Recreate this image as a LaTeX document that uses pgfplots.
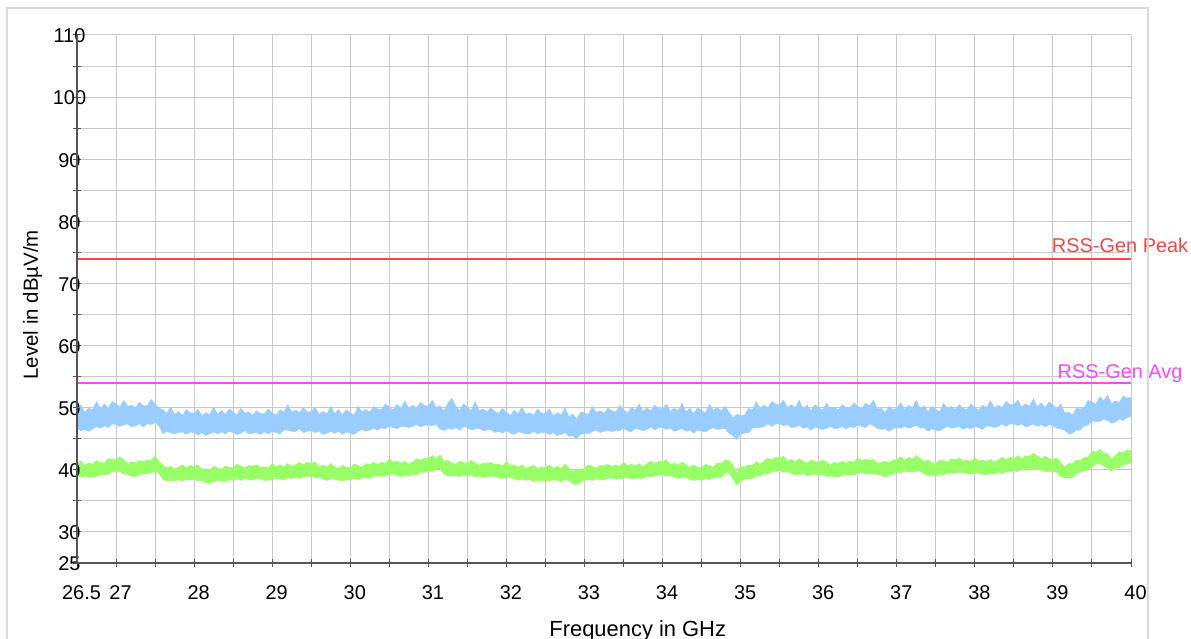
\documentclass[border=0pt]{standalone}
\usepackage{pgfplots}
\pgfplotsset{compat=1.18}
\usepackage{pgfplotstable}
\usepgfplotslibrary{fillbetween}
\usepackage{fontspec}
\setmainfont{Liberation Sans}

\definecolor{peakred}{RGB}{240,72,72}
\definecolor{avgmag}{RGB}{248,72,248}
\definecolor{trblue}{RGB}{153,204,255}
\definecolor{trgreen}{RGB}{153,255,102}
\definecolor{gridgrey}{RGB}{200,200,200}
\definecolor{axgrey}{RGB}{85,85,85}
\definecolor{framegrey}{RGB}{217,217,217}

% f: frequency (GHz); bu/bl: peak trace envelope; gu/gl: average trace envelope (dBuV/m)
\pgfplotstableread{
f bu bl gu gl
26.50 49.8 46.7 41.1 39.1
26.55 50.4 46.3 41.4 38.8
26.60 49.2 46.5 40.7 39.0
26.65 49.9 46.2 41.1 38.8
26.70 49.7 46.6 40.9 38.8
26.75 51.0 47.0 41.5 39.0
26.80 49.8 46.7 41.2 39.2
26.85 50.6 47.1 41.1 39.2
26.90 49.9 46.8 41.8 39.3
26.95 51.0 47.4 41.7 39.7
27.00 50.6 47.3 41.7 39.7
27.05 50.1 47.0 42.1 39.8
27.10 51.2 47.2 41.6 39.3
27.15 50.2 47.4 41.0 39.3
27.20 50.4 46.9 41.3 39.0
27.25 50.0 47.1 41.1 38.9
27.30 50.9 47.4 41.5 39.3
27.35 50.3 46.9 41.3 39.4
27.40 50.3 47.4 41.6 39.4
27.45 51.3 47.3 41.5 39.5
27.50 50.6 47.6 42.3 39.8
27.55 49.9 47.1 41.3 39.4
27.60 49.7 45.8 40.8 38.5
27.65 49.1 46.2 40.3 38.2
27.70 50.1 46.0 40.6 38.3
27.75 48.9 45.8 40.1 38.2
27.80 49.4 46.0 40.4 38.4
27.85 48.7 46.1 40.8 38.2
27.90 49.7 45.7 40.3 38.4
27.95 49.2 46.1 40.7 38.4
28.00 49.1 46.0 40.5 38.5
28.05 49.7 45.6 40.8 38.2
28.10 48.7 46.0 40.0 38.3
28.15 49.2 45.5 40.2 37.9
28.20 48.9 45.8 39.9 37.8
28.25 50.1 46.1 40.6 38.1
28.30 48.9 45.8 40.3 38.3
28.35 49.6 46.1 40.1 38.2
28.40 48.9 45.8 40.6 38.1
28.45 49.8 46.2 40.4 38.4
28.50 49.3 46.0 40.3 38.3
28.55 48.8 45.7 40.9 38.6
28.60 49.9 45.9 40.6 38.3
28.65 49.1 46.3 40.3 38.6
28.70 49.3 45.8 40.7 38.4
28.75 48.8 45.9 40.6 38.4
28.80 49.5 46.0 40.8 38.6
28.85 49.1 45.7 40.4 38.5
28.90 49.0 46.1 40.5 38.3
28.95 49.8 45.8 40.3 38.3
29.00 49.2 46.2 41.0 38.5
29.05 48.8 46.0 40.5 38.6
29.10 49.7 45.8 40.8 38.5
29.15 49.3 46.4 40.5 38.4
29.20 50.5 46.4 41.0 38.7
29.25 49.3 46.2 40.5 38.6
29.30 49.6 46.2 40.8 38.8
29.35 49.2 46.6 41.2 38.6
29.40 50.0 46.0 40.8 38.9
29.45 49.3 46.2 41.2 38.9
29.50 49.4 46.3 41.0 39.0
29.55 50.1 46.0 41.3 38.7
29.60 48.9 46.2 40.5 38.8
29.65 49.4 45.7 40.8 38.5
29.70 49.0 45.9 40.4 38.3
29.75 50.2 46.2 41.0 38.5
29.80 49.0 45.9 40.5 38.5
29.85 49.7 46.2 40.2 38.3
29.90 48.8 45.7 40.7 38.2
29.95 49.7 46.1 40.4 38.4
30.00 49.2 45.9 40.4 38.4
30.05 48.8 45.7 40.9 38.6
30.10 50.2 46.2 40.7 38.4
30.15 49.3 46.5 40.4 38.7
30.20 49.7 46.2 41.0 38.7
30.25 49.3 46.4 40.8 38.6
30.30 50.2 46.7 41.2 39.0
30.35 49.8 46.4 40.9 39.0
30.40 49.7 46.8 41.2 39.0
30.45 50.6 46.6 41.0 39.0
30.50 50.1 47.1 41.8 39.3
30.55 49.6 46.8 41.2 39.3
30.60 50.5 46.6 41.4 39.1
30.65 49.9 47.0 41.0 38.9
30.70 51.1 47.0 41.4 39.1
30.75 49.9 46.8 40.9 39.0
30.80 50.4 47.0 41.3 39.3
30.85 49.9 47.3 41.8 39.2
30.90 50.9 46.9 41.5 39.6
30.95 50.3 47.2 41.9 39.6
31.00 50.3 47.2 41.8 39.8
31.05 51.2 47.1 42.3 39.7
31.10 50.0 47.3 41.8 40.1
31.15 50.3 46.6 42.4 40.1
31.20 49.4 46.3 41.4 39.3
31.25 50.7 46.7 41.5 39.0
31.30 51.5 46.5 41.1 39.1
31.35 50.3 46.8 40.9 39.0
31.40 49.5 46.4 41.4 38.9
31.45 50.6 47.0 41.2 39.2
31.50 50.1 46.8 41.0 39.0
31.55 49.5 46.4 41.5 39.2
31.60 51.0 46.6 41.1 38.8
31.65 49.5 46.7 40.7 39.0
31.70 49.8 46.3 41.1 38.8
31.75 49.3 46.4 41.0 38.8
31.80 50.0 46.5 41.2 39.0
31.85 49.4 46.0 40.8 38.9
31.90 49.1 46.2 40.9 38.7
31.95 49.9 45.9 40.6 38.6
32.00 49.3 46.3 41.3 38.8
32.05 48.7 45.9 40.7 38.8
32.10 49.6 45.7 40.8 38.5
32.15 49.0 46.1 40.4 38.3
32.20 50.1 46.0 40.8 38.5
32.25 48.9 45.8 40.2 38.3
32.30 49.2 45.8 40.5 38.5
32.35 48.8 46.2 40.7 38.1
32.40 49.8 45.8 40.2 38.3
32.45 49.1 46.0 40.5 38.2
32.50 49.1 46.0 40.3 38.3
32.55 49.8 45.7 40.8 38.2
32.60 48.7 46.0 40.2 38.5
32.65 49.2 45.5 40.6 38.3
32.70 48.8 45.7 40.2 38.1
32.75 50.0 46.0 40.9 38.4
32.80 48.5 45.4 40.3 38.3
32.85 49.0 45.5 39.7 37.8
32.90 48.1 45.0 40.1 37.6
32.95 49.3 45.7 40.0 38.0
33.00 49.2 45.9 40.3 38.3
33.05 48.9 45.8 40.8 38.5
33.10 50.2 46.2 40.6 38.3
33.15 49.2 46.4 40.2 38.5
33.20 49.5 46.0 40.7 38.4
33.25 49.1 46.2 40.6 38.4
33.30 49.9 46.4 40.9 38.7
33.35 49.5 46.1 40.5 38.6
33.40 49.3 46.4 40.8 38.6
33.45 50.3 46.3 40.5 38.5
33.50 49.7 46.7 41.2 38.7
33.55 49.1 46.3 40.7 38.8
33.60 50.0 46.1 40.9 38.6
33.65 49.6 46.7 40.6 38.5
33.70 50.6 46.5 41.0 38.7
33.75 49.4 46.3 40.5 38.6
33.80 49.9 46.5 41.0 39.0
33.85 49.5 46.9 41.4 38.8
33.90 50.4 46.4 41.0 39.1
33.95 49.9 46.8 41.4 39.1
34.00 49.9 46.8 41.3 39.3
34.05 50.6 46.5 41.6 39.0
34.10 49.4 46.7 40.8 39.1
34.15 49.9 46.2 41.1 38.8
34.20 49.5 46.4 40.7 38.6
34.25 50.7 46.7 41.3 38.8
34.30 49.3 46.2 40.8 38.8
34.35 49.9 46.4 40.4 38.5
34.40 49.0 45.9 40.8 38.3
34.45 50.0 46.4 40.4 38.4
34.50 49.5 46.2 40.3 38.3
34.55 49.2 46.1 40.9 38.6
34.60 50.5 46.5 40.7 38.4
34.65 49.6 46.8 40.4 38.7
34.70 50.0 46.5 41.1 38.8
34.75 49.5 46.6 41.0 38.8
34.80 50.2 46.7 41.6 39.4
34.85 49.3 45.9 41.5 39.6
34.90 48.4 45.5 40.8 38.6
34.95 48.9 44.9 39.5 37.5
35.00 48.8 45.8 40.6 38.1
35.05 48.7 45.9 40.4 38.5
35.10 49.9 46.0 40.8 38.5
35.15 49.6 46.7 40.7 38.6
35.20 50.9 46.8 41.3 39.0
35.25 49.9 46.8 40.9 39.0
35.30 50.4 47.0 41.4 39.4
35.35 50.0 47.4 41.9 39.3
35.40 51.0 47.0 41.6 39.7
35.45 50.5 47.4 42.0 39.7
35.50 50.5 47.4 41.9 39.9
35.55 51.2 47.1 42.2 39.6
35.60 50.0 47.3 41.4 39.7
35.65 50.5 46.8 41.7 39.4
35.70 50.0 46.9 41.3 39.2
35.75 51.2 47.2 41.8 39.3
35.80 49.8 46.7 41.4 39.4
35.85 50.4 46.9 41.0 39.1
35.90 49.5 46.4 41.6 39.1
35.95 50.5 46.9 41.3 39.3
36.00 50.0 46.7 41.2 39.2
36.05 49.6 46.5 41.6 39.3
36.10 50.7 46.7 41.2 38.9
36.15 49.8 47.0 40.7 39.0
36.20 50.1 46.6 41.2 38.9
36.25 49.6 46.7 41.0 38.8
36.30 50.5 47.0 41.4 39.2
36.35 50.0 46.6 41.1 39.2
36.40 49.9 47.0 41.4 39.2
36.45 50.8 46.8 41.2 39.2
36.50 50.2 47.2 41.9 39.4
36.55 49.8 47.0 41.5 39.6
36.60 50.7 46.8 41.7 39.4
36.65 50.3 47.4 41.5 39.4
36.70 51.2 47.1 41.7 39.4
36.75 49.8 46.7 41.1 39.2
36.80 49.9 46.5 41.2 39.2
36.85 49.2 46.6 41.4 38.8
36.90 50.2 46.2 41.1 39.2
36.95 49.7 46.6 41.6 39.3
37.00 49.9 46.8 41.6 39.6
37.05 50.8 46.7 42.1 39.5
37.10 49.7 47.0 41.5 39.8
37.15 50.4 46.7 42.0 39.7
37.20 50.0 46.9 41.7 39.6
37.25 51.2 47.2 42.3 39.8
37.30 49.8 46.7 41.8 39.8
37.35 50.3 46.8 41.3 39.4
37.40 49.3 46.2 41.6 39.1
37.45 50.2 46.6 41.1 39.1
37.50 49.7 46.4 41.0 39.0
37.55 49.4 46.3 41.6 39.3
37.60 50.7 46.7 41.5 39.2
37.65 49.8 47.0 41.2 39.5
37.70 50.2 46.7 41.8 39.5
37.75 49.7 46.8 41.6 39.4
37.80 50.5 47.0 41.9 39.7
37.85 49.9 46.5 41.4 39.5
37.90 49.7 46.8 41.6 39.4
37.95 50.6 46.6 41.3 39.3
38.00 50.0 47.0 42.0 39.5
38.05 49.6 46.8 41.4 39.5
38.10 50.4 46.5 41.6 39.3
38.15 50.0 47.1 41.3 39.2
38.20 51.1 47.0 41.7 39.4
38.25 49.9 46.8 41.2 39.3
38.30 50.4 47.0 41.6 39.6
38.35 50.0 47.4 42.0 39.4
38.40 51.0 47.0 41.6 39.7
38.45 50.5 47.4 42.0 39.7
38.50 50.5 47.4 41.8 39.8
38.55 51.2 47.1 42.3 39.7
38.60 50.1 47.4 41.8 40.1
38.65 50.6 46.9 42.3 40.0
38.70 50.2 47.1 42.1 40.0
38.75 51.4 47.4 42.7 40.2
38.80 50.1 47.0 42.2 40.2
38.85 50.8 47.3 41.8 39.9
38.90 50.0 46.9 42.2 39.7
38.95 50.9 47.3 41.8 39.8
39.00 50.4 47.1 41.7 39.7
39.05 49.8 46.7 41.9 39.6
39.10 50.6 46.6 41.2 38.9
39.15 49.2 46.4 40.4 38.7
39.20 49.3 45.8 41.0 38.7
39.25 48.8 45.9 41.0 38.8
39.30 49.9 46.4 41.6 39.4
39.35 49.8 46.4 41.5 39.6
39.40 50.0 47.1 42.0 39.8
39.45 51.2 47.2 42.0 40.0
39.50 50.9 47.9 43.0 40.5
39.55 50.6 47.8 42.8 40.9
39.60 51.7 47.8 43.3 41.0
39.65 51.1 48.2 42.7 40.6
39.70 52.0 47.9 42.6 40.3
39.75 50.6 47.5 41.7 39.8
39.80 51.1 47.7 42.3 40.3
39.85 50.8 48.2 42.9 40.3
39.90 51.9 47.9 42.7 40.8
39.95 51.5 48.4 43.2 40.9
40.00 51.7 48.6 43.1 41.1
}\spectrum

\begin{document}
\begin{tikzpicture}
\begin{axis}[
  at={(0,0)}, anchor=south west,
  scale only axis,
  width=1054bp, height=528bp,
  xmin=26.5, xmax=40, ymin=25, ymax=110,
  clip=false,
  axis line style={draw=none},
  xtick={26.5,27,28,29,30,31,32,33,34,35,36,37,38,39,40},
  minor xtick={27.5,28.5,29.5,30.5,31.5,32.5,33.5,34.5,35.5,36.5,37.5,38.5,39.5},
  ytick={25,30,40,50,60,70,80,90,100,110},
  minor ytick={35,45,55,65,75,85,95,105},
  tick pos=left,
  tick align=center,
  major tick length=8bp, minor tick length=8bp,
  every tick/.style={color=axgrey, line width=1bp},
  grid=both,
  major grid style={color=gridgrey, line width=1bp},
  minor grid style={color=gridgrey, line width=1bp},
  /pgf/number format/assume math mode=true,
  /pgf/number format/fixed, /pgf/number format/precision=1,
  ticklabel style={font=\fontsize{20}{24}\selectfont, inner sep=0pt, text=black},
  xticklabel style={anchor=north, yshift=-18bp, xshift=4.5bp},
  yticklabel style={anchor=center, xshift=-3.5bp, yshift=-1bp},
  xlabel={Frequency in GHz},
  ylabel={Level in dBµV/m},
  xlabel style={font=\fontsize{22}{26}\selectfont, inner sep=0pt,
    at={(axis description cs:0.532,-0.108)}, anchor=north},
  ylabel style={font=\fontsize{20.5}{24}\selectfont, inner sep=0pt,
    at={(axis description cs:-0.037,0.489)}, anchor=base},
]
  % peak detector trace
  \addplot[name path=bup, draw=trblue, line width=0.5bp] table[x=f, y=bu] {\spectrum};
  \addplot[name path=blo, draw=trblue, line width=0.5bp] table[x=f, y=bl] {\spectrum};
  \addplot[trblue] fill between[of=bup and blo];
  % average detector trace
  \addplot[name path=gup, draw=trgreen, line width=0.5bp] table[x=f, y=gu] {\spectrum};
  \addplot[name path=glo, draw=trgreen, line width=0.5bp] table[x=f, y=gl] {\spectrum};
  \addplot[trgreen] fill between[of=gup and glo];
  % limit lines
  \addplot[peakred, line width=2.2bp] coordinates {(26.5,74) (40,74)};
  \addplot[avgmag, line width=2.2bp] coordinates {(26.5,54) (40,54)};
  \node[anchor=base, text=peakred, font=\fontsize{20}{24}\selectfont, inner sep=0pt]
    at (axis cs:39.86,74) [yshift=6bp] {RSS-Gen Peak};
  \node[anchor=base, text=avgmag, font=\fontsize{20}{24}\selectfont, inner sep=0pt]
    at (axis cs:39.86,54) [yshift=4bp] {RSS-Gen Avg};
  % left and bottom axis lines
  \draw[axgrey, line width=1.5bp] (rel axis cs:0,1) -- (rel axis cs:0,0) -- (rel axis cs:1,0);
\end{axis}
% outer chart frame
\draw[framegrey, line width=2bp] (-70bp,-120bp) -- (-70bp,555bp) -- (1071bp,555bp) -- (1071bp,-120bp);
\pgfresetboundingbox
\path[use as bounding box] (-77bp,-76bp) rectangle (1114bp,563bp);
\end{tikzpicture}
\end{document}
